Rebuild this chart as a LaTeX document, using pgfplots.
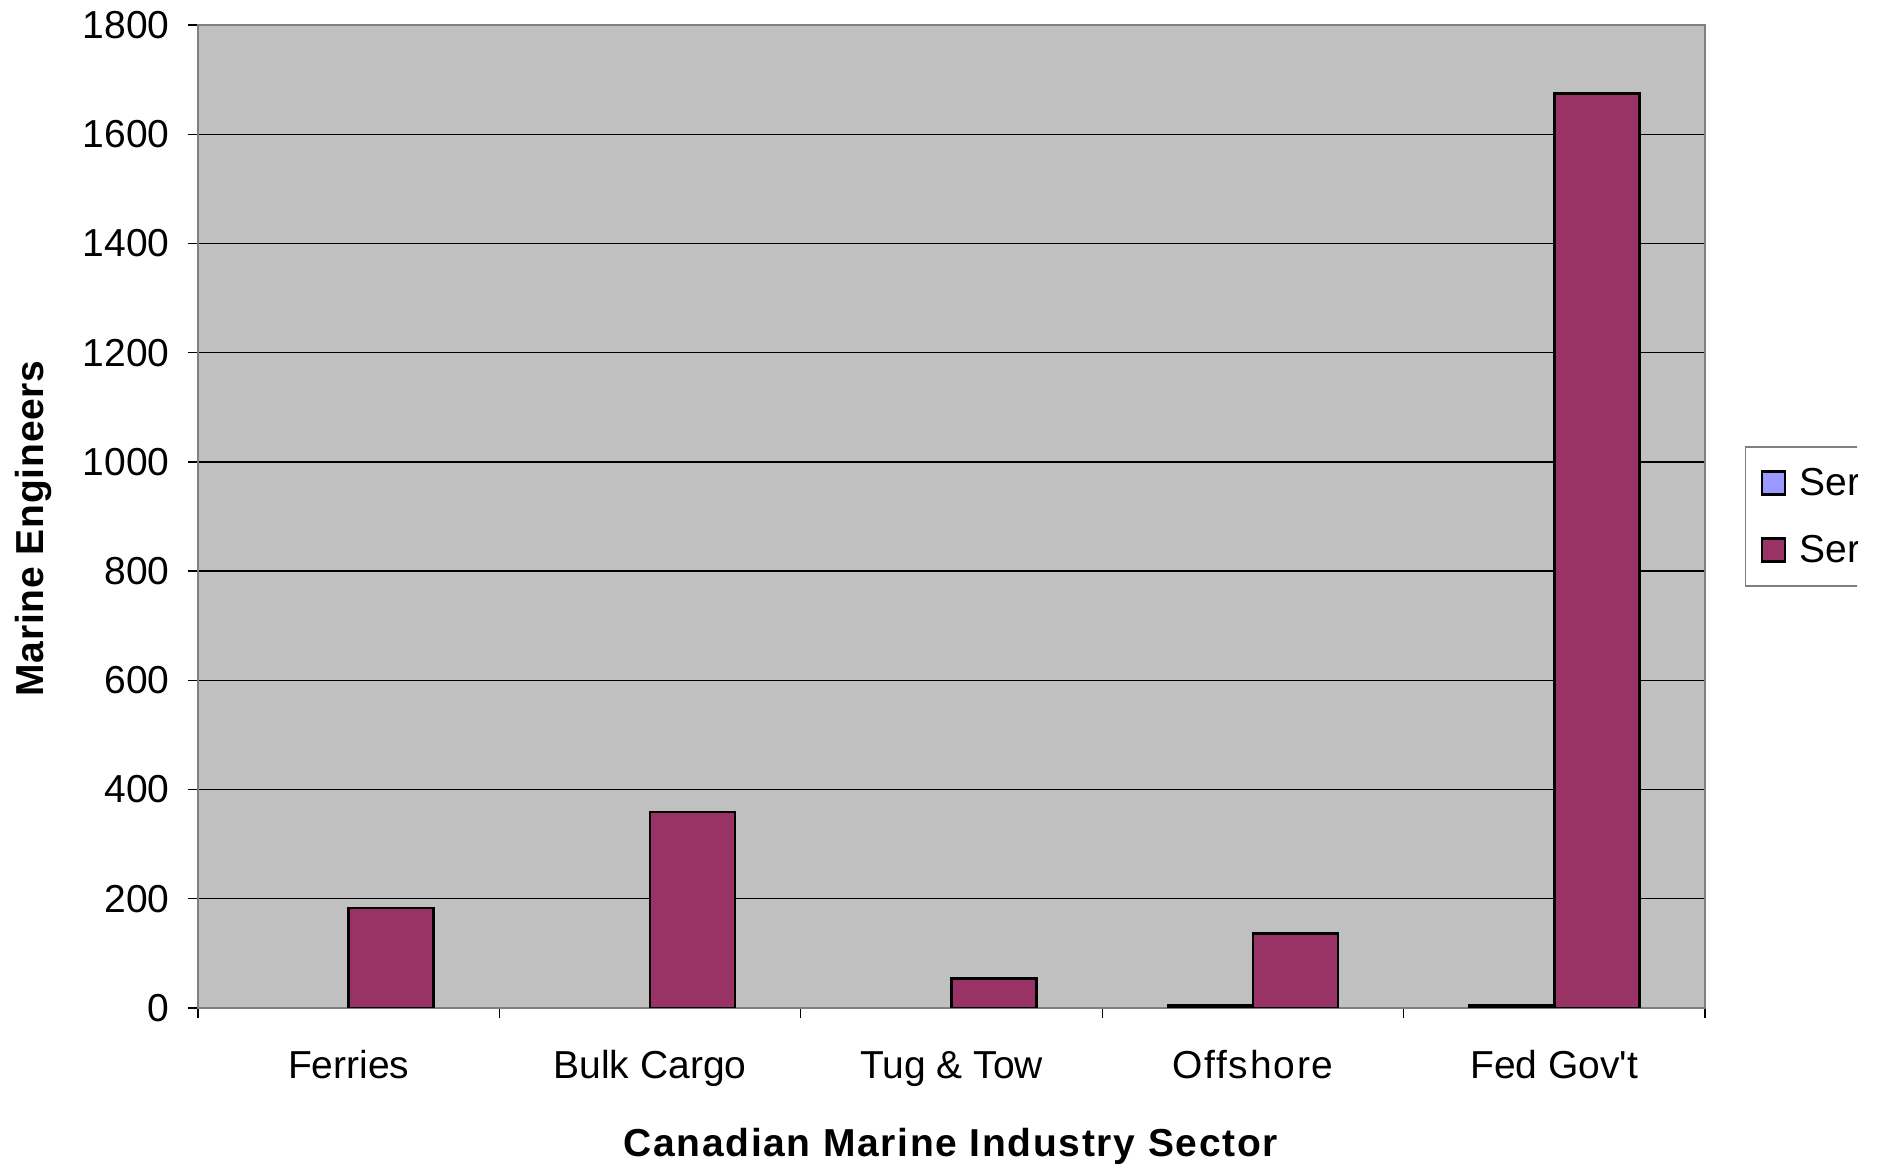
\documentclass[border=0pt]{standalone}
\usepackage{fontspec}
\setmainfont{Liberation Sans}
\usepackage{pgfplots}
\pgfplotsset{compat=1.18}
\definecolor{barA}{HTML}{9999FF}
\definecolor{barB}{HTML}{993366}
\definecolor{plotbg}{HTML}{C0C0C0}
\definecolor{framec}{HTML}{808080}
\begin{document}
\begin{tikzpicture}[font=\fontsize{15.6pt}{18.7pt}\selectfont]
\useasboundingbox (0,0) rectangle (753.2pt,466.4pt);
\clip (0,0) rectangle (742.8pt,466.4pt);
\begin{axis}[
  at={(79.2pt,63.2pt)}, anchor=south west,
  scale only axis, width=602.8pt, height=393.2pt,
  xmin=-0.5, xmax=4.5, ymin=0, ymax=1800,
  ytick={0,200,...,1800},
  xtick={0,1,2,3,4},
  xticklabels={Ferries, Bulk Cargo, Tug \& Tow, {\addfontfeature{LetterSpace=4.5}Offshore}, Fed Gov\textquotesingle t},
  minor xtick={-0.5,0.5,1.5,2.5,3.5,4.5},
  major x tick style={draw=none},
  tick pos=left,
  tick align=outside,
  major tick length=4pt, minor tick length=4pt,
  tick style={black, line width=0.5pt},
  ymajorgrids, grid style={black, line width=0.5pt},
  axis background/.style={fill=plotbg},
  axis line style={framec, line width=0.8pt},
  /pgf/number format/assume math mode=true,
  scaled y ticks=false,
  yticklabel style={/pgf/number format/1000 sep={}, xshift=-3.8pt},
  xticklabel style={anchor=base, yshift=-24.4pt},
  ylabel={\textbf{\addfontfeature{LetterSpace=2}Marine Engineers}},
  xlabel={\textbf{\addfontfeature{LetterSpace=4.3}Canadian Marine Industry Sector}},
  xlabel style={at={(axis description cs:0.5,-0.1403)}, anchor=center},
  ylabel style={at={(axis description cs:-0.1091,0.4883)}, anchor=center},
  legend style={at={(1.0265,0.5717)}, anchor=north west, draw=framec,
    line width=0.6pt, fill=white, row sep=10pt, inner xsep=6pt, inner ysep=6pt,
    font=\fontsize{15.6pt}{18.7pt}\selectfont},
  legend cell align=left,
  legend image code/.code={\draw[#1, line width=1.1pt] (0pt,-4.6pt) rectangle (9.2pt,4.6pt); \path (12.4pt,0pt);},
]
\addplot[ybar, bar width=0.282, bar shift=-0.141, fill=barA, draw=black, line width=1.1pt]
  coordinates {(3,5) (4,5)};
\addlegendentry{Series1}
\addplot[ybar, bar width=0.282, bar shift=0.141, fill=barB, draw=black, line width=1.1pt]
  coordinates {(0,183) (1,359) (2,54) (3,137) (4,1674)};
\addlegendentry{Series2}
\end{axis}
\end{tikzpicture}
\end{document}
